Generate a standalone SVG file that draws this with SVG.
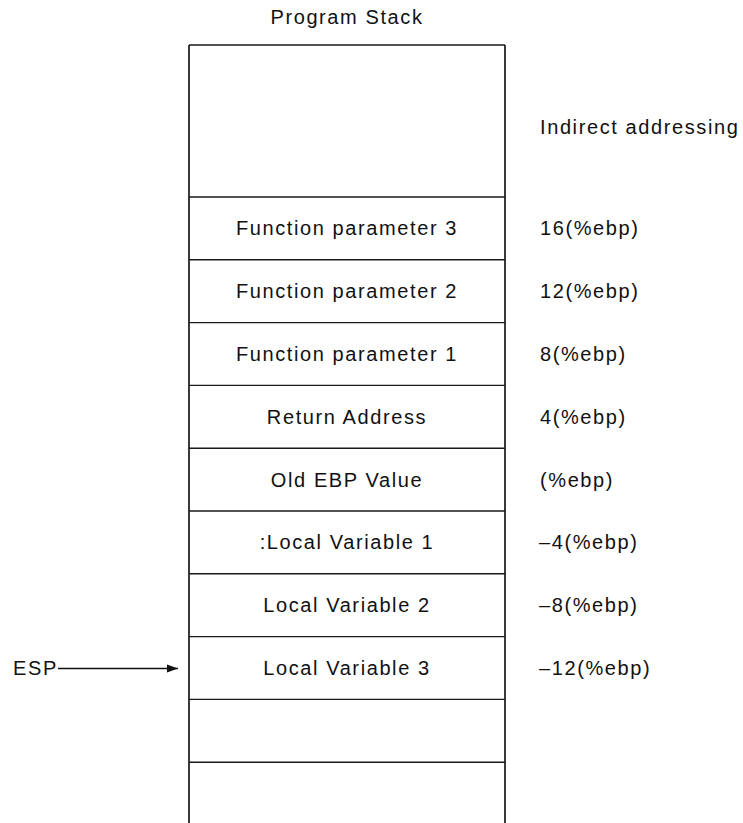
<svg xmlns="http://www.w3.org/2000/svg" width="743" height="823" viewBox="0 0 743 823">
<style>
text{font-family:"Liberation Sans",Arial,sans-serif;font-size:20px;letter-spacing:1.6px;fill:#111}
.c{text-anchor:middle}
.n{letter-spacing:0.6px}
.h{stroke:#1a1a1a;stroke-width:1.4;fill:none}
.v{stroke:#3a3a3a;stroke-width:2;fill:none}
.a{stroke:#111;stroke-width:1.3;fill:none}
</style>
<defs>
<marker id="ah" markerWidth="12" markerHeight="10" refX="11" refY="5" orient="auto" markerUnits="userSpaceOnUse">
<path d="M0,1 L11,5 L0,9 Z" fill="#111"/>
</marker>
</defs>
<text id="title" class="c" x="347" y="24">Program Stack</text>
<g id="stack">
<line class="v" x1="189" y1="45" x2="189" y2="823"/>
<line class="v" x1="505" y1="45" x2="505" y2="823"/>
<line class="h" x1="189" y1="45" x2="505" y2="45"/>
<line class="h" x1="189" y1="197" x2="505" y2="197"/>
<line class="h" x1="189" y1="259.8" x2="505" y2="259.8"/>
<line class="h" x1="189" y1="322.6" x2="505" y2="322.6"/>
<line class="h" x1="189" y1="385.4" x2="505" y2="385.4"/>
<line class="h" x1="189" y1="448.2" x2="505" y2="448.2"/>
<line class="h" x1="189" y1="511" x2="505" y2="511"/>
<line class="h" x1="189" y1="573.8" x2="505" y2="573.8"/>
<line class="h" x1="189" y1="636.6" x2="505" y2="636.6"/>
<line class="h" x1="189" y1="699.4" x2="505" y2="699.4"/>
<line class="h" x1="189" y1="762.2" x2="505" y2="762.2"/>
</g>
<g id="cell-param3"><text class="c" x="347" y="235.4">Function parameter 3</text></g>
<g id="cell-param2"><text class="c" x="347" y="298.2">Function parameter 2</text></g>
<g id="cell-param1"><text class="c" x="347" y="361">Function parameter 1</text></g>
<g id="cell-ret"><text class="c" x="347" y="423.8">Return Address</text></g>
<g id="cell-ebp"><text class="c" x="347" y="486.6">Old EBP Value</text></g>
<g id="cell-local1"><text class="c" x="347" y="549.4">:Local Variable 1</text></g>
<g id="cell-local2"><text class="c" x="347" y="612.2">Local Variable 2</text></g>
<g id="cell-local3"><text class="c" x="347" y="675">Local Variable 3</text></g>
<g id="labels">
<text x="540" y="134">Indirect addressing</text>
<text x="540" y="235.4">16(%ebp)</text>
<text x="540" y="298.2">12(%ebp)</text>
<text x="540" y="361">8(%ebp)</text>
<text x="540" y="423.8">4(%ebp)</text>
<text x="540" y="486.6">(%ebp)</text>
<text x="539" y="549.4">–4(%ebp)</text>
<text x="539" y="612.2">–8(%ebp)</text>
<text x="539" y="675">–12(%ebp)</text>
</g>
<g id="esp"><text x="13" y="675">ESP</text></g>
<g id="connectors">
<line class="a" x1="58" y1="668.5" x2="178" y2="668.5" marker-end="url(#ah)"/>
</g>
</svg>
